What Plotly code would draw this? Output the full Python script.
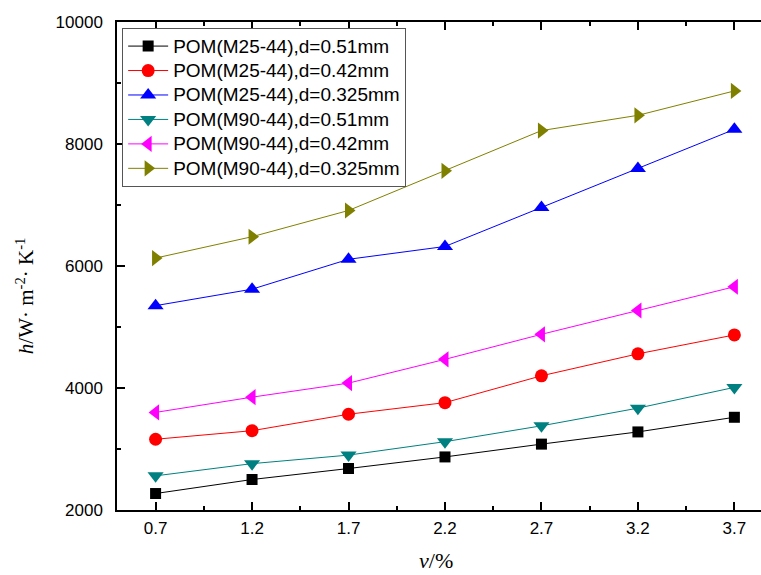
import plotly.graph_objects as go

# volume fraction v (%) on the x axis
v = [0.7, 1.2, 1.7, 2.2, 2.7, 3.2, 3.7]

# heat transfer coefficient h (W·m^-2·K^-1) for each POM sample
h_m25_051 = [2270, 2500, 2680, 2870, 3080, 3280, 3520]
h_m25_042 = [3160, 3300, 3570, 3760, 4200, 4560, 4870]
h_m25_0325 = [5350, 5620, 6110, 6320, 6960, 7600, 8240]
h_m90_051 = [2560, 2760, 2900, 3120, 3380, 3670, 4010]
h_m90_042 = [3600, 3850, 4080, 4470, 4880, 5270, 5660]
h_m90_0325 = [6130, 6480, 6910, 7560, 8220, 8470, 8870]

series = [
    ("POM(M25-44),d=0.51mm", h_m25_051, "#000000", "square", 11),
    ("POM(M25-44),d=0.42mm", h_m25_042, "#FF0000", "circle", 13),
    ("POM(M25-44),d=0.325mm", h_m25_0325, "#0000FF", "triangle-up", 14),
    ("POM(M90-44),d=0.51mm", h_m90_051, "#008080", "triangle-down", 14),
    ("POM(M90-44),d=0.42mm", h_m90_042, "#FF00FF", "triangle-left", 14),
    ("POM(M90-44),d=0.325mm", h_m90_0325, "#808000", "triangle-right", 14),
]

fig = go.Figure()
for name, vals, color, symbol, size in series:
    fig.add_trace(go.Scatter(
        x=v, y=vals, name=f'<span style="font-size:19px">{name}</span>',
        mode="lines+markers",
        line=dict(color=color, width=1),
        marker=dict(symbol=symbol, size=size, color=color, line=dict(width=0)),
    ))

axis_font = dict(family="Liberation Sans, Arial", size=17, color="#000000")
serif = "Liberation Serif, Times New Roman"

fig.update_layout(
    width=761, height=575,
    margin=dict(l=117, r=0, t=22, b=65),
    paper_bgcolor="white", plot_bgcolor="white",
    showlegend=True,
    legend=dict(
        x=0.008, y=0.988, xanchor="left", yanchor="top",
        bgcolor="white", bordercolor="#555555", borderwidth=1,
        font=dict(family="Liberation Sans, Arial", size=16.5, color="#000000"),
        tracegroupgap=0, itemwidth=40,
    ),
    annotations=[
        dict(text="<i>h</i>/W· m<sup>-2</sup>· K<sup>-1</sup>",
             xref="paper", yref="paper", x=-0.143, y=0.44,
             xanchor="center", yanchor="middle", textangle=-90, showarrow=False,
             font=dict(family=serif, size=21, color="#000000")),
        dict(text="<i>v</i>/%",
             xref="paper", yref="paper", x=0.4955, y=-0.1332,
             xanchor="center", yanchor="bottom", showarrow=False,
             font=dict(family=serif, size=22, color="#000000")),
    ],
)

fig.update_xaxes(
    range=[0.5, 3.838],
    tickmode="array", tickvals=v, ticktext=[f"{x:.1f}" for x in v],
    ticks="inside", ticklen=8, tickwidth=1.5, tickcolor="#000000",
    minor=dict(ticks="inside", ticklen=4, tickwidth=1.5, tickcolor="#000000",
               tick0=0.45, dtick=0.5, showgrid=False),
    showline=True, linecolor="#000000", linewidth=1.5, mirror="ticks",
    showgrid=False, zeroline=False,
    tickfont=axis_font, ticklabelstandoff=2,
)

fig.update_yaxes(
    range=[2000, 10000],
    tickmode="linear", tick0=2000, dtick=2000, tickformat="d",
    ticks="inside", ticklen=8, tickwidth=1.5, tickcolor="#000000",
    minor=dict(ticks="inside", ticklen=4, tickwidth=1.5, tickcolor="#000000",
               dtick=1000, showgrid=False),
    showline=True, linecolor="#000000", linewidth=1.5, mirror=False,
    showgrid=False, zeroline=False,
    tickfont=axis_font, ticklabelstandoff=9,
)

fig.write_html("out.html")
